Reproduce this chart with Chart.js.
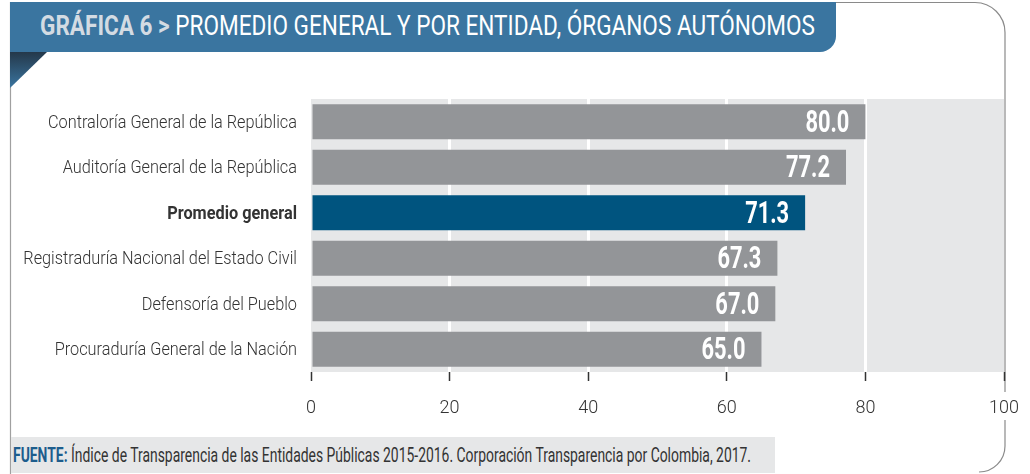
<!DOCTYPE html>
<html>
<head>
<meta charset="utf-8">
<script src="https://cdn.jsdelivr.net/npm/chart.js@4.4.1/dist/chart.umd.min.js"></script>
<style>
  html, body { margin: 0; padding: 0; background: #fff; }
  #page { position: relative; width: 1030px; height: 474px; overflow: hidden; font-family: Roboto, "Liberation Sans", sans-serif; }
  #frame { position: absolute; left: 0; top: 0; }
  #header { position: absolute; left: 10px; top: 2px; width: 826px; height: 50px; background: #3a75a0; border-bottom-right-radius: 16px; }
  #title { position: absolute; left: 30px; top: 7px; font-size: 28px; white-space: nowrap; color: #fff; transform-origin: 0 0; }
  #title b { color: #d3dbe3; }
  #footer { position: absolute; left: 11px; top: 437px; width: 764px; height: 36px; background: #e6e7e8; }
  #fuente { position: absolute; left: 2px; top: 6px; font-size: 20px; white-space: nowrap; color: #333; transform-origin: 0 0; }
  #fuente b { color: #1d5d8d; }
  #chartBox { position: absolute; left: 0; top: 0; width: 1036px; height: 474px; }
</style>
</head>
<body>
<div id="page">
  <svg id="frame" width="1030" height="474">
    <defs>
      <linearGradient id="fold" x1="0" y1="0" x2="0" y2="1">
        <stop offset="0" stop-color="#24384a"/>
        <stop offset="1" stop-color="#3a75a0"/>
      </linearGradient>
    </defs>
    <path d="M10.5 2 L10.5 474" stroke="#a0a0a0" stroke-width="1.2" fill="none"/>
    <path d="M830 2.5 L975 2.5 A30 30 0 0 1 1005 32.5 L1005 392" stroke="#8a8a8a" stroke-width="1.2" fill="none"/>
    <path d="M1005 420 L1005 446 A26 26 0 0 1 979 472" stroke="#8a8a8a" stroke-width="1.2" fill="none"/>
    <path d="M10 52 L47 52 L10 88 Z" fill="url(#fold)"/>
  </svg>
  <div id="header"><div id="title"><b>GRÁFICA 6 &gt;</b> PROMEDIO GENERAL Y POR ENTIDAD, ÓRGANOS AUTÓNOMOS</div></div>
  <div id="footer"><div id="fuente"><b>FUENTE:</b> Índice de Transparencia de las Entidades Públicas 2015-2016. Corporación Transparencia por Colombia, 2017.</div></div>
  <div id="chartBox"><canvas id="grafica"></canvas></div>
</div>
<script>
// datos
const entidades = [
  'Contraloría General de la República',
  'Auditoría General de la República',
  'Promedio general',
  'Registraduría Nacional del Estado Civil',
  'Defensoría del Pueblo',
  'Procuraduría General de la Nación'
];
const puntajes = [80.0, 77.2, 71.3, 67.3, 67.0, 65.0];
const destacado = 'Promedio general';
const ticksX = [0, 20, 40, 60, 80, 100];

// condensar textos html a un ancho
function ajustar(id, ancho) {
  const el = document.getElementById(id);
  const w = el.getBoundingClientRect().width;
  el.style.transform = 'scaleX(' + (ancho / w) + ')';
}
ajustar('title', 775);
ajustar('fuente', 738);

const colores = entidades.map(e => e === destacado ? '#00547f' : '#939598');

const fondo = {
  id: 'fondo',
  beforeDraw(chart) {
    const a = chart.chartArea, c = chart.ctx;
    c.save();
    c.fillStyle = '#e6e7e8';
    c.fillRect(a.left, a.top, a.right - a.left, a.bottom - a.top);
    c.restore();
  }
};

const etiquetas = {
  id: 'etiquetas',
  afterDraw(chart) {
    const c = chart.ctx;
    const y = chart.scales.y;
    // nombres de las entidades (condensados)
    c.save();
    c.font = '300 19px Roboto';
    const sx = 249 / c.measureText(entidades[0]).width;
    c.textAlign = 'right';
    c.textBaseline = 'middle';
    c.fillStyle = '#333';
    entidades.forEach((e, i) => {
      c.save();
      c.font = (e === destacado ? 'bold ' : '300 ') + '19px Roboto';
      c.translate(297, y.getPixelForTick(i) + 1);
      c.scale(sx, 1);
      c.fillText(e, 0, 0);
      c.restore();
    });
    c.restore();
    // valores dentro de las barras
    const meta = chart.getDatasetMeta(0);
    c.save();
    c.font = 'bold 31px Roboto';
    const sv = 44 / c.measureText('80.0').width;
    c.textAlign = 'right';
    c.textBaseline = 'middle';
    c.fillStyle = '#fff';
    meta.data.forEach((bar, i) => {
      c.save();
      c.translate(bar.x - 16, bar.y + 2);
      c.scale(sv, 1);
      c.fillText(puntajes[i].toFixed(1), 0, 0);
      c.restore();
    });
    c.restore();
  }
};

new Chart(document.getElementById('grafica'), {
  type: 'bar',
  data: {
    labels: entidades,
    datasets: [{
      data: puntajes,
      backgroundColor: colores,
      categoryPercentage: 1,
      barPercentage: 0.77
    }]
  },
  options: {
    indexAxis: 'y',
    responsive: true,
    maintainAspectRatio: false,
    animation: false,
    layout: { padding: { left: 0, top: 99, right: 25, bottom: 56 } },
    plugins: { legend: { display: false }, tooltip: { enabled: false } },
    scales: {
      x: {
        min: 0,
        max: 100,
        afterBuildTicks: s => { s.ticks = ticksX.map(v => ({ value: v })); },
        afterFit: s => { s.height = 46; },
        border: { display: false },
        grid: {
          color: ctx => (ctx.tick && (ctx.tick.value === 0 || ctx.tick.value === 100)) ? 'rgba(0,0,0,0)' : '#ffffff',
          lineWidth: 3,
          tickColor: '#333',
          tickWidth: 1.5,
          tickLength: 9
        },
        ticks: { color: '#333', font: { family: 'Roboto', size: 18, weight: '300' }, padding: 17, maxRotation: 0 }
      },
      y: {
        afterFit: s => { s.width = 311; },
        border: { display: false },
        grid: { display: false },
        ticks: { display: false }
      }
    }
  },
  plugins: [fondo, etiquetas]
});
</script>
</body>
</html>
